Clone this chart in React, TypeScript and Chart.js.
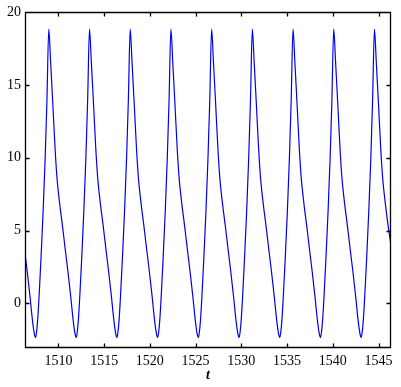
import React, { useEffect, useRef } from "react";
import { Chart, registerables } from "chart.js";

Chart.register(...registerables);

// time samples (t) and signal values
const tValues: number[] = [
  1506.0, 1506.3, 1506.6, 1506.9, 1507.1, 1507.28, 1507.4,
  1507.49, 1507.6, 1507.73, 1507.9, 1508.1, 1508.33, 1508.55, 1508.75, 1508.95, 1509.15, 1509.4, 1509.65, 1509.85, 1510.15, 1510.45, 1510.75, 1511.05, 1511.35, 1511.55, 1511.73, 1511.85,
  1511.94, 1512.05, 1512.18, 1512.35, 1512.55, 1512.78, 1513.0, 1513.2, 1513.4, 1513.6, 1513.85, 1514.1, 1514.3, 1514.6, 1514.9, 1515.2, 1515.5, 1515.8, 1516.0, 1516.18, 1516.3,
  1516.39, 1516.5, 1516.63, 1516.8, 1517.0, 1517.23, 1517.45, 1517.65, 1517.85, 1518.05, 1518.3, 1518.55, 1518.75, 1519.05, 1519.35, 1519.65, 1519.95, 1520.25, 1520.45, 1520.63, 1520.75,
  1520.84, 1520.95, 1521.08, 1521.25, 1521.45, 1521.68, 1521.9, 1522.1, 1522.3, 1522.5, 1522.75, 1523.0, 1523.2, 1523.5, 1523.8, 1524.1, 1524.4, 1524.7, 1524.9, 1525.08, 1525.2,
  1525.29, 1525.4, 1525.53, 1525.7, 1525.9, 1526.13, 1526.35, 1526.55, 1526.75, 1526.95, 1527.2, 1527.45, 1527.65, 1527.95, 1528.25, 1528.55, 1528.85, 1529.15, 1529.35, 1529.53, 1529.65,
  1529.74, 1529.85, 1529.98, 1530.15, 1530.35, 1530.58, 1530.8, 1531.0, 1531.2, 1531.4, 1531.65, 1531.9, 1532.1, 1532.4, 1532.7, 1533.0, 1533.3, 1533.6, 1533.8, 1533.98, 1534.1,
  1534.19, 1534.3, 1534.43, 1534.6, 1534.8, 1535.03, 1535.25, 1535.45, 1535.65, 1535.85, 1536.1, 1536.35, 1536.55, 1536.85, 1537.15, 1537.45, 1537.75, 1538.05, 1538.25, 1538.43, 1538.55,
  1538.64, 1538.75, 1538.88, 1539.05, 1539.25, 1539.48, 1539.7, 1539.9, 1540.1, 1540.3, 1540.55, 1540.8, 1541.0, 1541.3, 1541.6, 1541.9, 1542.2, 1542.5, 1542.7, 1542.88, 1543.0,
  1543.09, 1543.2, 1543.33, 1543.5, 1543.7, 1543.93, 1544.15, 1544.35, 1544.55, 1544.75, 1545.0, 1545.25, 1545.45, 1545.75, 1546.05, 1546.35, 1546.65,
];

const yValues: number[] = [
  5.3, 3.7, 2.15, 0.45, -0.8, -1.75, -2.2,
  -2.37, -2.05, -1.2, 0.6, 3.1, 6.3, 9.9, 14.0, 18.86, 16.6, 13.6, 10.5, 8.6, 6.8, 5.3, 3.7, 2.15, 0.45, -0.8, -1.75, -2.2,
  -2.37, -2.05, -1.2, 0.6, 3.1, 6.3, 9.9, 14.0, 18.86, 16.6, 13.6, 10.5, 8.6, 6.8, 5.3, 3.7, 2.15, 0.45, -0.8, -1.75, -2.2,
  -2.37, -2.05, -1.2, 0.6, 3.1, 6.3, 9.9, 14.0, 18.86, 16.6, 13.6, 10.5, 8.6, 6.8, 5.3, 3.7, 2.15, 0.45, -0.8, -1.75, -2.2,
  -2.37, -2.05, -1.2, 0.6, 3.1, 6.3, 9.9, 14.0, 18.86, 16.6, 13.6, 10.5, 8.6, 6.8, 5.3, 3.7, 2.15, 0.45, -0.8, -1.75, -2.2,
  -2.37, -2.05, -1.2, 0.6, 3.1, 6.3, 9.9, 14.0, 18.86, 16.6, 13.6, 10.5, 8.6, 6.8, 5.3, 3.7, 2.15, 0.45, -0.8, -1.75, -2.2,
  -2.37, -2.05, -1.2, 0.6, 3.1, 6.3, 9.9, 14.0, 18.86, 16.6, 13.6, 10.5, 8.6, 6.8, 5.3, 3.7, 2.15, 0.45, -0.8, -1.75, -2.2,
  -2.37, -2.05, -1.2, 0.6, 3.1, 6.3, 9.9, 14.0, 18.86, 16.6, 13.6, 10.5, 8.6, 6.8, 5.3, 3.7, 2.15, 0.45, -0.8, -1.75, -2.2,
  -2.37, -2.05, -1.2, 0.6, 3.1, 6.3, 9.9, 14.0, 18.86, 16.6, 13.6, 10.5, 8.6, 6.8, 5.3, 3.7, 2.15, 0.45, -0.8, -1.75, -2.2,
  -2.37, -2.05, -1.2, 0.6, 3.1, 6.3, 9.9, 14.0, 18.86, 16.6, 13.6, 10.5, 8.6, 6.8, 5.3, 4.0, 2.4,
];

const xTicks: number[] = [1510, 1515, 1520, 1525, 1530, 1535, 1540, 1545];
const yTicks: number[] = [0, 5, 10, 15, 20];
const xMin = 1506.35;
const xMax = 1546.36;
const yMin = -3.08;
const yMax = 20;

const FONT = "'Liberation Serif', 'Times New Roman', serif";

const framePlugin = {
  id: "matlabFrame",
  afterDraw(chart: any) {
    const { ctx, chartArea: a, scales } = chart;
    const xs = scales.x;
    const ys = scales.y;
    const L = Math.round(a.left) + 0.5;
    const R = Math.round(a.right) - 0.5;
    const T = Math.round(a.top) + 0.5;
    const B = Math.round(a.bottom) - 0.5;
    const len = 4;
    ctx.save();
    ctx.strokeStyle = "#000";
    ctx.lineWidth = 1.3;
    ctx.beginPath();
    ctx.rect(L, T, R - L, B - T);
    for (const v of xTicks) {
      const px = Math.round(xs.getPixelForValue(v)) + 0.5;
      ctx.moveTo(px, B);
      ctx.lineTo(px, B - len);
      ctx.moveTo(px, T);
      ctx.lineTo(px, T + len);
    }
    for (const v of yTicks) {
      const py = Math.round(ys.getPixelForValue(v)) + 0.5;
      ctx.moveTo(L, py);
      ctx.lineTo(L + len, py);
      ctx.moveTo(R, py);
      ctx.lineTo(R - len, py);
    }
    ctx.stroke();
    ctx.restore();
  },
};

export default function App() {
  const ref = useRef<HTMLCanvasElement | null>(null);

  useEffect(() => {
    if (!ref.current) return;
    const points = tValues.map((t, i) => ({ x: t, y: yValues[i] }));
    const chart = new Chart(ref.current, {
      type: "line",
      data: {
        datasets: [
          {
            data: points,
            borderColor: "#0000ee",
            borderWidth: 1.2,
            pointRadius: 0,
            fill: false,
            cubicInterpolationMode: "monotone",
          },
        ],
      },
      options: {
        animation: false,
        responsive: false,
        maintainAspectRatio: false,
        layout: { padding: { top: 11, right: 10, left: 0, bottom: 0 } },
        plugins: { legend: { display: false }, tooltip: { enabled: false } },
        scales: {
          x: {
            type: "linear",
            min: xMin,
            max: xMax,
            grid: { display: false, drawTicks: false },
            border: { display: false },
            afterBuildTicks: (s: any) => {
              s.ticks = xTicks.map((v) => ({ value: v }));
            },
            afterFit: (s: any) => {
              s.height = 39;
            },
            ticks: {
              padding: 5,
              color: "#000",
              maxRotation: 0,
              autoSkip: false,
              font: { family: FONT, size: 14 },
              callback: (v: any) => String(v),
            },
            title: {
              display: true,
              text: "t",
              color: "#000",
              padding: { top: 0, bottom: 3 },
              font: { family: FONT, size: 14, style: "italic", weight: "bold" },
            },
          },
          y: {
            type: "linear",
            min: yMin,
            max: yMax,
            grid: { display: false, drawTicks: false },
            border: { display: false },
            afterBuildTicks: (s: any) => {
              s.ticks = yTicks.map((v) => ({ value: v }));
            },
            afterFit: (s: any) => {
              s.width = 25;
            },
            ticks: {
              padding: 4,
              color: "#000",
              autoSkip: false,
              font: { family: FONT, size: 14 },
              callback: (v: any) => String(v),
            },
          },
        },
      },
      plugins: [framePlugin],
    } as any);
    return () => chart.destroy();
  }, []);

  return (
    <div style={{ position: "fixed", left: 0, top: 0, width: 401, height: 387, background: "#fff" }}>
      <canvas ref={ref} width={401} height={387} style={{ display: "block", width: 401, height: 387 }} />
    </div>
  );
}
